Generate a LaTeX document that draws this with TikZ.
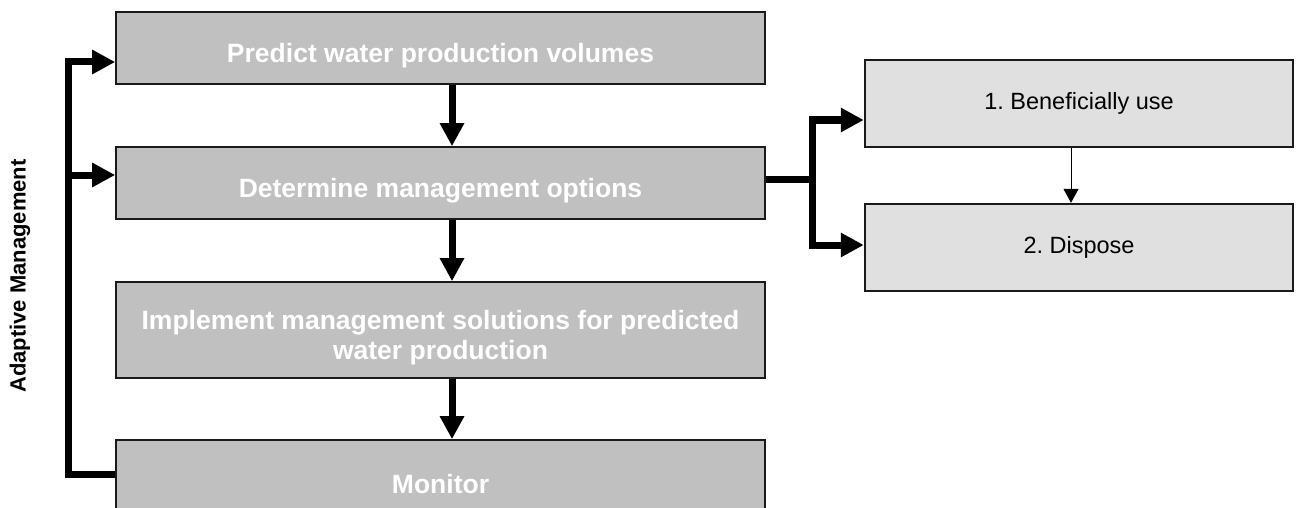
\documentclass[tikz,border=0pt]{standalone}
\usepackage{fontspec}
\setmainfont{Liberation Sans}
\usetikzlibrary{arrows.meta}
\definecolor{boxgrey}{HTML}{C0C0C0}
\definecolor{lightgrey}{HTML}{E0E0E0}
\definecolor{edgegrey}{HTML}{1A1A1A}
\frenchspacing

\begin{document}
\begin{tikzpicture}[x=1pt,y=-1pt]
	\tikzstyle{stepbox} = [rectangle, minimum width=649pt, inner sep=0pt, draw=edgegrey, line width=1.6pt, fill=boxgrey]
	\tikzstyle{steptext} = [text=white, font=\fontsize{26.5}{30}\selectfont\bfseries, align=center, yshift=-8pt]
	\tikzstyle{optbox} = [rectangle, minimum width=428pt, minimum height=87pt, draw=edgegrey, line width=2.4pt, fill=lightgrey, font=\fontsize{23.5}{28}\selectfont]
	\tikzstyle{fat} = [line width=7pt, -{Triangle[length=23pt,width=23pt]}]

	\useasboundingbox (0,0) rectangle (1297,508);
	\clip (0,0) rectangle (1297,508);

	\foreach \name/\y/\h/\txt in {predict/48/72/{Predict water production volumes}, determine/183/72/{Determine management options}, implement/330/96/{Implement management solutions for predicted\\water production}, monitor/476/72/{Monitor}}
	{
		\node[stepbox, minimum height=\h pt] (\name) at (440.5,\y) {};
		\node[steptext] (\name-txt) at (\name) {\txt};
	}

	\foreach \from/\to in {predict/determine, determine/implement, implement/monitor}
		\draw[fat] ([xshift=11.5pt]\from.south) -- ([xshift=11.5pt]\to.north);

	% feedback loop
	\coordinate (loop-top) at (68.5,62);
	\coordinate (loop-mid) at (68.5,175);
	\coordinate (loop-bot) at (68.5,474);
	\draw[fat] (loop-bot -| monitor.west) -- (loop-bot) -- (loop-top) -- (loop-top -| predict.west);
	\draw[fat] (loop-mid) -- (loop-mid -| determine.west);

	\node[rotate=90, font=\fontsize{22}{26}\selectfont\bfseries] (adaptive) at (20,276) {Adaptive Management};

	% options
	\node[optbox] (use) at (1079,103.5) {1. Beneficially use};
	\node[optbox] (dispose) at (1079,247.5) {2. Dispose};

	\coordinate (fork) at (812,179);
	\coordinate (fork-top) at (812,120);
	\coordinate (fork-bot) at (812,245);
	\draw[fat] (fork -| determine.east) -- (fork) -- (fork-top) -- (fork-top -| use.west);
	\draw[fat] (fork) -- (fork-bot) -- (fork-bot -| dispose.west);

	\draw[line width=1pt, -{Triangle[length=14pt,width=15pt]}] ([xshift=-8pt]use.south) -- ([xshift=-8pt]dispose.north);
\end{tikzpicture}
\end{document}
